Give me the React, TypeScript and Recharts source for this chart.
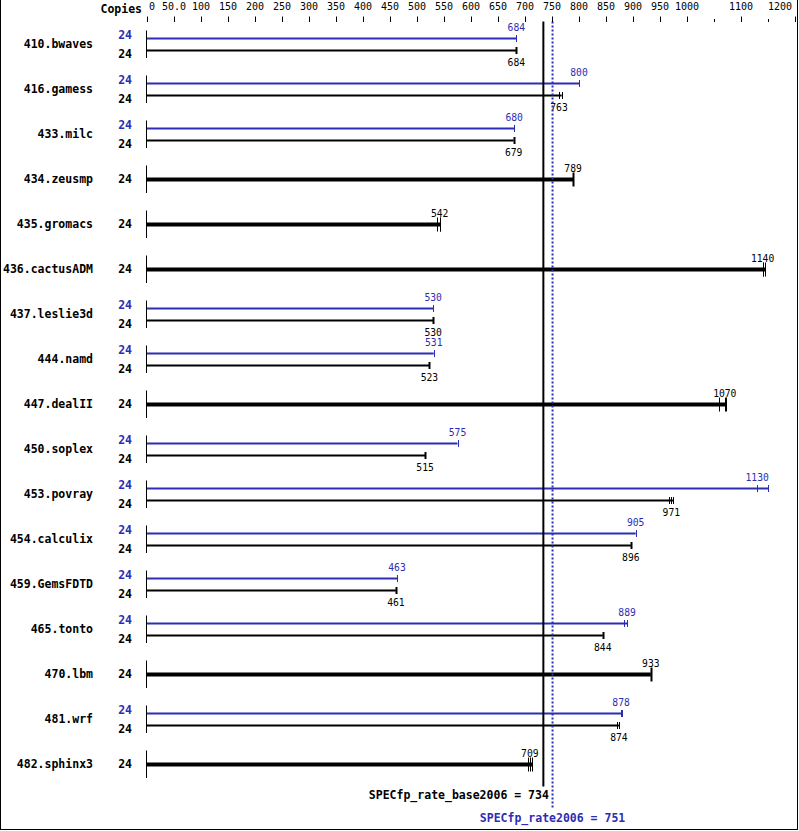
import { ComposedChart, Bar, XAxis, YAxis, ReferenceLine, Customized } from "recharts";

const benchmarks = [
  "410.bwaves", "416.gamess", "433.milc", "434.zeusmp", "435.gromacs", "436.cactusADM",
  "437.leslie3d", "444.namd", "447.dealII", "450.soplex", "453.povray", "454.calculix",
  "459.GemsFDTD", "465.tonto", "470.lbm", "481.wrf", "482.sphinx3",
];
const copies = [24, 24, 24, 24, 24, 24, 24, 24, 24, 24, 24, 24, 24, 24, 24, 24, 24];
// null peak = base and peak are the same run, drawn as one thick bar
const peakScores: (number | null)[] = [684, 800, 680, null, null, null, 530, 531, null, 575, 1130, 905, 463, 889, null, 878, null];
const baseScores = [684, 763, 679, 789, 542, 1140, 530, 523, 1070, 515, 971, 896, 461, 844, 933, 874, 709];
// other runs visible as extra ticks at the bar ends
const peakRuns: number[][] = [[], [], [], [], [], [], [], [], [], [], [1150], [], [], [884], [], [877, 879], []];
const baseRuns: number[][] = [[], [768], [], [], [537, 543], [1141, 1145], [], [], [1059, 1072], [], [966, 974], [], [], [], [], [871], [706, 713]];

const axisTicks = [0, 50, 100, 150, 200, 250, 300, 350, 400, 450, 500, 550, 600, 650, 700, 750, 800, 850, 900, 950, 1000, 1050, 1100, 1150, 1200];
const axisLabels = ["0", "50.0", "100", "150", "200", "250", "300", "350", "400", "450", "500", "550", "600", "650", "700", "750", "800", "850", "900", "950", "1000", "", "1100", "", "1200"];

const baseMean = 734;
const peakMean = 751;

const BLUE = "#2d2db4";
const FONT = "'DejaVu Sans Mono', monospace";

const rows = benchmarks.map((name, i) => {
  const twin = peakScores[i] != null;
  return {
    name,
    copies: copies[i],
    peak: twin ? peakScores[i] : null,
    single: twin ? null : baseScores[i],
    base: twin ? baseScores[i] : null,
    peakRuns: peakRuns[i],
    baseRuns: baseRuns[i],
  };
});

const crisp = (v: number) => Math.round(v) + 0.5;

function RunBar(props: any) {
  const { x, y, width, height, payload, kind } = props;
  const value = payload[kind];
  if (value == null || !width) return null;
  const runs: number[] = kind === "peak" ? payload.peakRuns : payload.baseRuns;
  const px = (v: number) => x + (width * v) / value;
  const cy = y + height / 2;
  const color = kind === "peak" ? BLUE : "#000";
  const thick = kind === "single";
  const all = [value, ...runs];
  const end = px(Math.max(...all));
  const tickH = thick ? 7 : 3.5;
  const tickW = runs.length || kind === "peak" ? 1 : 2;
  const above = kind !== "base";
  return (
    <g>
      <line x1={x} y1={cy} x2={end} y2={cy} stroke={color} strokeWidth={thick ? 4 : 2} />
      {all.map((v, i) => (
        <line key={i} x1={crisp(px(v))} x2={crisp(px(v))} y1={cy - tickH} y2={cy + tickH} stroke={color} strokeWidth={tickW} />
      ))}
      <text x={px(value)} y={above ? cy - 7.5 : cy + 15} textAnchor="middle" fontSize={9.7} fontFamily={FONT} fill={color}>
        {value}
      </text>
    </g>
  );
}

function RowTick(props: any) {
  const { y, payload } = props;
  const row = rows.find((r) => r.name === payload.value);
  if (!row) return null;
  const twin = row.peak != null;
  return (
    <g fontFamily={FONT} fontWeight="bold" fontSize={11.5}>
      <text x={93} y={y + 4} textAnchor="end" fill="#000">{row.name}</text>
      {twin ? (
        <>
          <text x={132} y={y - 4.8} textAnchor="end" fill={BLUE}>{row.copies}</text>
          <text x={132} y={y + 13.5} textAnchor="end" fill="#000">{row.copies}</text>
        </>
      ) : (
        <text x={132} y={y + 4} textAnchor="end" fill="#000">{row.copies}</text>
      )}
      <line x1={146.5} x2={146.5} y1={y - 13.5} y2={y + 14} stroke="#000" />
    </g>
  );
}

function ScaleTick(props: any) {
  const { x, payload } = props;
  const idx = axisTicks.indexOf(payload.value);
  const label = axisLabels[idx];
  const minor = label === "";
  let anchor = "middle";
  let tx = x;
  if (idx === 0) {
    anchor = "start";
    tx = x + 2;
  } else if (idx === axisTicks.length - 1) {
    anchor = "end";
    tx = x - 3;
  }
  return (
    <g>
      <line x1={crisp(x)} x2={crisp(x)} y1={minor ? 19 : 16.5} y2={22} stroke="#000" />
      {label && (
        <text x={tx} y={10} textAnchor={anchor} fontSize={10} fontFamily={FONT} fill="#000">{label}</text>
      )}
    </g>
  );
}

const BaseLabel = (p: any) => {
  const { x, y, height } = p.viewBox;
  return (
    <text x={x + 5.5} y={y + height + 12} textAnchor="end" fontFamily={FONT} fontWeight="bold" fontSize={11.5} fill="#000">
      SPECfp_rate_base2006 = {baseMean}
    </text>
  );
};

const PeakLabel = (p: any) => {
  const { x, y, height } = p.viewBox;
  return (
    <text x={x} y={y + height + 35} textAnchor="middle" fontFamily={FONT} fontWeight="bold" fontSize={11.5} fill={BLUE}>
      SPECfp_rate2006 = {peakMean}
    </text>
  );
};

const CopiesHeader = () => (
  <text x={142} y={13} textAnchor="end" fontFamily={FONT} fontWeight="bold" fontSize={11.5} fill="#000">Copies</text>
);

export default function App() {
  return (
    <div style={{ position: "absolute", left: 0, top: 0, width: 799, height: 831, background: "#fff" }}>
      <div
        style={{
          position: "absolute", left: 0, top: 0, width: 798, height: 830, boxSizing: "border-box",
          borderLeft: "1px solid #000", borderRight: "1px solid #000", borderBottom: "1px solid #000",
        }}
      />
      <ComposedChart
        width={799}
        height={831}
        data={rows}
        layout="vertical"
        margin={{ top: 0.5, right: 4, bottom: 44.5, left: 0 }}
        barGap={0}
        style={{ position: "absolute", left: 0, top: 0 }}
      >
        <XAxis
          type="number"
          orientation="top"
          domain={[0, 1200]}
          ticks={axisTicks}
          interval={0}
          height={21}
          axisLine={false}
          tickLine={false}
          tick={<ScaleTick />}
          allowDataOverflow
        />
        <YAxis type="category" dataKey="name" width={147} axisLine={false} tickLine={false} tick={<RowTick />} interval={0} />
        <Bar dataKey="peak" barSize={6} isAnimationActive={false} shape={(p: any) => <RunBar {...p} kind="peak" />} />
        <Bar dataKey="single" barSize={6} isAnimationActive={false} shape={(p: any) => <RunBar {...p} kind="single" />} />
        <Bar dataKey="base" barSize={6} isAnimationActive={false} shape={(p: any) => <RunBar {...p} kind="base" />} />
        <ReferenceLine x={baseMean} stroke="#000" strokeWidth={2} label={{ content: BaseLabel }} />
        <ReferenceLine
          x={peakMean}
          stroke={BLUE}
          strokeWidth={2}
          strokeDasharray="2 2"
          shape={(p: any) => <line x1={p.x1} y1={p.y1} x2={p.x2} y2={p.y2 + 22} stroke={BLUE} strokeWidth={2} strokeDasharray="2 2" />}
          label={{ content: PeakLabel }}
        />
        <Customized component={CopiesHeader} />
      </ComposedChart>
    </div>
  );
}
